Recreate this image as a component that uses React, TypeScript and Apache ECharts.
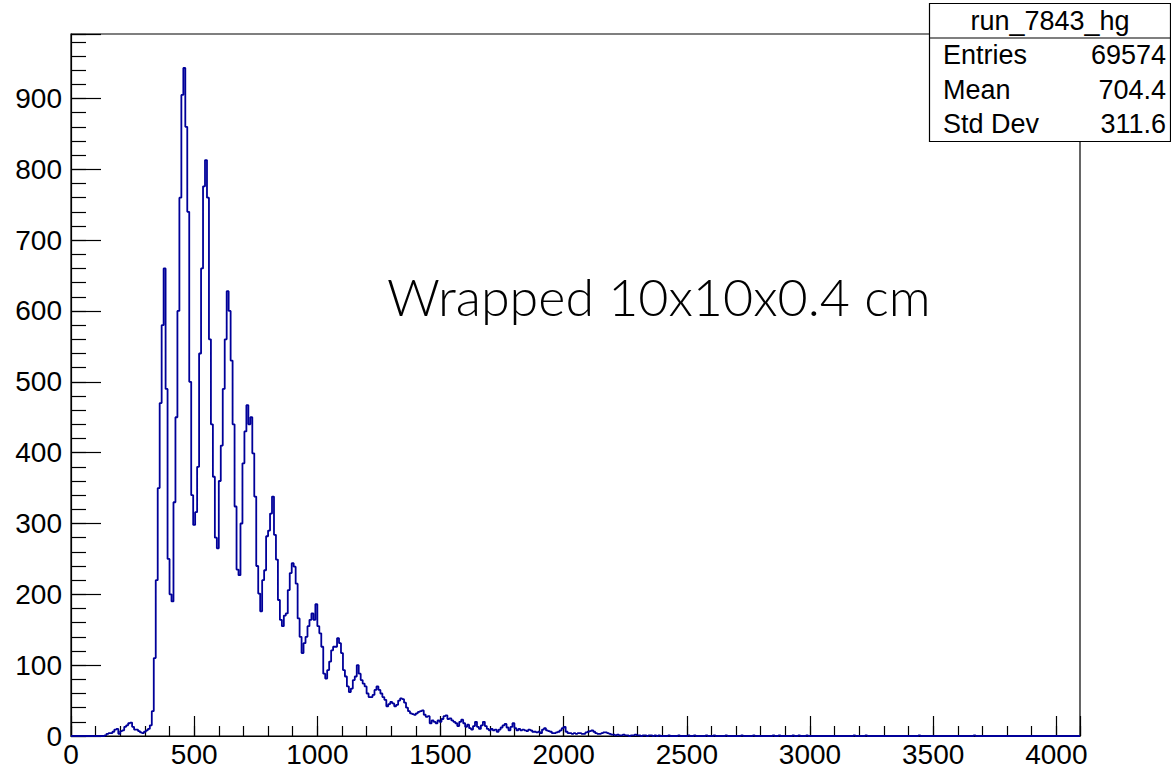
import React, { useEffect, useRef } from "react";
import * as echarts from "echarts";

// ---------- data ----------
const BIN_WIDTH = 8;
const X_MIN = 0;
const X_MAX = 4096;
const Y_MAX = 991;
const FIRST_BIN_EDGE = 136;

// bin contents starting at x = 136, bin width 8
const counts: number[] = [
  1, 3, 4, 4, 6, 9, 10, 3, 7, 8, 13, 15, 18, 19, 13, 9, 9, 7, 5, 4, 6, 8, 10, 15,
  35, 110, 220, 350, 470, 580, 660, 490, 250, 200, 190, 330, 450, 600, 760, 905, 943, 860, 740, 500, 340,
  298, 316, 380, 540, 660, 776, 813, 760, 560, 440, 366, 280, 265, 360, 410, 490, 560, 628, 600,
  530, 440, 324, 235, 227, 300, 385, 430, 467, 440, 450, 399, 338, 240, 201, 176, 220, 234, 282, 290,
  314, 338, 284, 249, 192, 164, 155, 170, 173, 206, 230, 244, 239, 215, 166, 140, 117, 131, 140, 155,
  164, 173, 164, 186, 155, 145, 126, 88, 81, 93, 105, 121, 126, 126, 138, 131, 117, 93, 84, 70,
  62, 67, 79, 84, 100, 88, 79, 74, 70, 60, 55, 55, 58, 65, 70, 65, 60, 55, 51, 42,
  45, 48, 46, 42, 44, 50, 53, 52, 47, 40, 35, 32, 31, 30, 32, 34, 35, 36, 30, 27,
  28, 18, 22, 20, 18, 22, 20, 24, 28, 29, 24, 25, 22, 20, 18, 14, 20, 23, 18, 13,
  16, 11, 9, 14, 20, 13, 10, 15, 20, 14, 10, 8, 10, 8, 9, 6, 9, 12, 15, 17,
  12, 8, 13, 18, 11, 8, 10, 8, 9, 8, 7, 9, 8, 6, 6, 5, 6, 4, 9, 11,
  8, 7, 6, 4, 4, 5, 6, 8, 11, 13, 6, 4, 4, 3, 4, 3, 4, 4, 3, 3,
  5, 6, 7, 8, 6, 4, 3, 3, 4, 5, 5, 4, 3, 2,
  2, 1, 2, 1, 1, 2, 1, 1, 0, 1, 1, 2, 1, 1, 0, 1, 1, 0, 1, 1, 0, 1, 0, 1, 0,
];

// isolated single-entry bins in the far tail: [bin low edge, count]
const sparseTailBins: number[][] = [
  [2424, 1], [2464, 1], [2504, 1], [2528, 1], [2576, 1], [2608, 1], [2656, 1],
  [2720, 1], [2768, 1], [2848, 1], [2872, 1], [2928, 1], [2952, 1], [2984, 1],
  [3176, 1], [3224, 1], [3440, 1], [3664, 1],
];

const xTickLabels = [0, 500, 1000, 1500, 2000, 2500, 3000, 3500, 4000];
const yTickLabels = [0, 100, 200, 300, 400, 500, 600, 700, 800, 900];

const statsTitle = "run_7843_hg";
const statsNames = ["Entries", "Mean", "Std Dev"];
const statsValues = ["69574", "704.4", "311.6"];
const annotation = "Wrapped 10x10x0.4 cm";

// ---------- chart ----------
const FONT = "'Liberation Sans', Arial, Helvetica, sans-serif";

function buildPoints(): number[][] {
  const nBins = Math.round((X_MAX - X_MIN) / BIN_WIDTH);
  const bins = new Array(nBins).fill(0);
  const start = Math.round((FIRST_BIN_EDGE - X_MIN) / BIN_WIDTH);
  counts.forEach((c, k) => {
    bins[start + k] = c;
  });
  sparseTailBins.forEach(([edge, c]) => {
    bins[Math.round((edge - X_MIN) / BIN_WIDTH)] = c;
  });
  const pts: number[][] = bins.map((c, i) => [X_MIN + i * BIN_WIDTH, c]);
  pts.push([X_MAX, bins[nBins - 1]]);
  return pts;
}

export default function App() {
  const ref = useRef<HTMLDivElement>(null);

  useEffect(() => {
    if (!ref.current) return;
    const chart = echarts.init(ref.current, null, { renderer: "svg" });
    const black = "#000";
    const rowH = 34.5;
    const boxTop = 3.5;
    const boxLeft = 929.5;
    const boxRight = 1170.5;

    const statsGraphics: any[] = [
      {
        type: "rect",
        shape: { x: boxLeft, y: boxTop, width: boxRight - boxLeft, height: rowH * 4 },
        style: { fill: "#fff", stroke: black, lineWidth: 1.2 },
        z: 100,
      },
      {
        type: "line",
        shape: { x1: boxLeft, y1: boxTop + rowH, x2: boxRight, y2: boxTop + rowH },
        style: { stroke: black, lineWidth: 1.2 },
        z: 101,
      },
      {
        type: "text",
        x: (boxLeft + boxRight) / 2,
        y: boxTop + rowH / 2,
        style: {
          text: statsTitle,
          fontSize: 27,
          fontFamily: FONT,
          fill: black,
          align: "center",
          verticalAlign: "middle",
        },
        z: 102,
      },
    ];
    statsNames.forEach((name, i) => {
      const cy = boxTop + rowH * (i + 1) + rowH / 2;
      statsGraphics.push({
        type: "text",
        x: 943,
        y: cy,
        style: { text: name, fontSize: 27, fontFamily: FONT, fill: black, align: "left", verticalAlign: "middle" },
        z: 102,
      });
      statsGraphics.push({
        type: "text",
        x: 1166,
        y: cy,
        style: { text: statsValues[i], fontSize: 27, fontFamily: FONT, fill: black, align: "right", verticalAlign: "middle" },
        z: 102,
      });
    });

    chart.setOption({
      animation: false,
      backgroundColor: "#fff",
      grid: {
        left: 71,
        top: 34,
        width: 1009,
        height: 702,
        show: true,
        borderColor: black,
        borderWidth: 1.2,
        backgroundColor: "transparent",
      },
      xAxis: [
        {
          type: "value",
          min: X_MIN,
          max: X_MAX,
          interval: 500,
          axisLine: { show: true, onZero: false, lineStyle: { color: black, width: 1.2 } },
          axisTick: { show: true, inside: true, length: 20, lineStyle: { color: black, width: 1.2 } },
          axisLabel: {
            fontSize: 28,
            color: black,
            fontFamily: FONT,
            margin: 4,
            formatter: (v: number) => (xTickLabels.includes(v) ? String(v) : ""),
          },
          splitLine: { show: false },
        },
        {
          type: "value",
          min: X_MIN,
          max: X_MAX,
          interval: 100,
          position: "bottom",
          axisLine: { show: false },
          axisTick: { show: true, inside: true, length: 10, lineStyle: { color: black, width: 1.2 } },
          axisLabel: { show: false },
          splitLine: { show: false },
        },
      ],
      yAxis: [
        {
          type: "value",
          min: 0,
          max: Y_MAX,
          interval: 100,
          axisLine: { show: true, onZero: false, lineStyle: { color: black, width: 1.2 } },
          axisTick: { show: true, inside: true, length: 30, lineStyle: { color: black, width: 1.2 } },
          axisLabel: {
            fontSize: 28,
            color: black,
            fontFamily: FONT,
            margin: 9,
            formatter: (v: number) => (yTickLabels.includes(v) ? String(v) : ""),
          },
          splitLine: { show: false },
        },
        {
          type: "value",
          min: 0,
          max: Y_MAX,
          interval: 20,
          position: "left",
          axisLine: { show: false },
          axisTick: { show: true, inside: true, length: 15, lineStyle: { color: black, width: 1.2 } },
          axisLabel: { show: false },
          splitLine: { show: false },
        },
      ],
      series: [
        {
          type: "line",
          xAxisIndex: 0,
          yAxisIndex: 0,
          data: buildPoints(),
          step: "end",
          symbol: "none",
          clip: true,
          lineStyle: { color: "#000099", width: 1.8 },
          z: 5,
        },
      ],
      graphic: [
        {
          type: "text",
          x: 387,
          y: 296,
          style: {
            text: annotation,
            fontSize: 52,
            fontFamily: "Lato, 'Open Sans', sans-serif",
            fontWeight: 300,
            fill: black,
            align: "left",
            verticalAlign: "middle",
          },
          z: 50,
        },
        ...statsGraphics,
      ],
    });
    return () => chart.dispose();
  }, []);

  return (
    <div
      ref={ref}
      style={{ position: "fixed", left: 0, top: 0, width: 1171, height: 771, background: "#fff" }}
    />
  );
}
